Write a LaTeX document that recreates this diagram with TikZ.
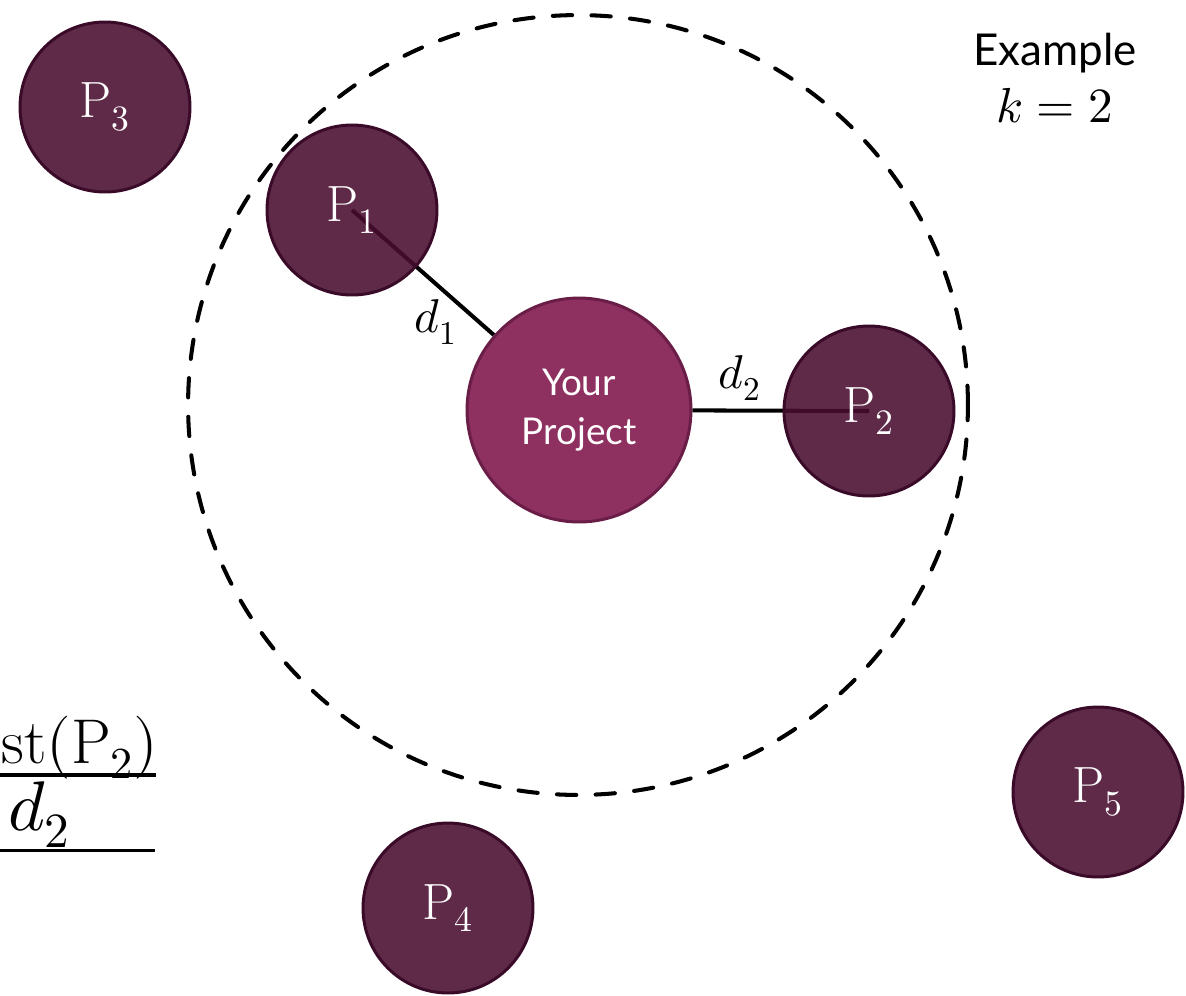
\documentclass[tikz,border=0pt]{standalone}
\usepackage{fontspec}
\usepackage{unicode-math}
\newfontfamily\labelfont{Lato}
\usetikzlibrary{backgrounds}
\definecolor{prjfill}{HTML}{8E3060}
\definecolor{prjedge}{HTML}{6A1E47}
\definecolor{pfill}{HTML}{480D2F}
\definecolor{pedge}{HTML}{3A0B28}

\begin{document}
\begin{tikzpicture}[x=0.02cm, y=-0.02cm,
  other/.style={circle, draw=pedge, fill=pfill, fill opacity=0.88, text opacity=1, line width=1.7pt, minimum size=3.4cm, inner sep=0pt, text=white, font=\fontsize{29}{32}\selectfont},
  mine/.style={circle, draw=prjedge, fill=prjfill, line width=1.7pt, minimum size=4.48cm, inner sep=0pt, align=center, text=white, font=\labelfont\fontsize{21}{28}\selectfont},
  dist/.style={line width=2.3pt},
  mathlbl/.style={font=\fontsize{27}{30}\selectfont}]
  \useasboundingbox (0,0) rectangle (1186,995);
  % projects
  \node[mine] (yp) at (579,410) {Your\\Project};
  \node[other] (p1) at (352,210) {$\mathrm{P}_1$};
  \node[other] (p2) at (869,411) {$\mathrm{P}_2$};
  \node[other] (p3) at (105,107) {$\mathrm{P}_3$};
  \node[other] (p4) at (448,908) {$\mathrm{P}_4$};
  \node[other] (p5) at (1098,792) {$\mathrm{P}_5$};
  % neighbourhood and distances
  \begin{scope}[on background layer]
    \draw[line width=2.3pt, line cap=round, dash pattern=on 11pt off 11pt] (578,405) circle[radius=7.8cm];
    \draw[dist] (p1.center) -- (yp);
    \draw[dist] (yp) -- (p2.center);
  \end{scope}
  \node[mathlbl] (d1) at (436,322) {$d_1$};
  \node[mathlbl] (d2) at (740,378) {$d_2$};
  % example
  \node[anchor=base, font=\labelfont\fontsize{25}{30}\selectfont] (ex) at (1055,65) {Example};
  \node[anchor=base, font=\fontsize{28}{32}\selectfont] (kk) at (1055,122) {$k=2$};
  % formula at the left edge
  \node[anchor=base west, inner sep=0pt, font=\fontsize{36}{40}\selectfont] (num) at (1,763) {$\mathrm{st}(\mathrm{P}_2)$};
  \node[anchor=base west, inner sep=0pt, font=\fontsize{40}{44}\selectfont] (den) at (8,830) {$d_2$};
  \coordinate (barL) at (0,775);
  \coordinate (barR) at (156,775);
  \coordinate (lineL) at (0,850);
  \coordinate (lineR) at (155,850);
  \draw[line width=2.3pt] (barL) -- (barR);
  \draw[line width=1.7pt] (lineL) -- (lineR);
\end{tikzpicture}
\end{document}
